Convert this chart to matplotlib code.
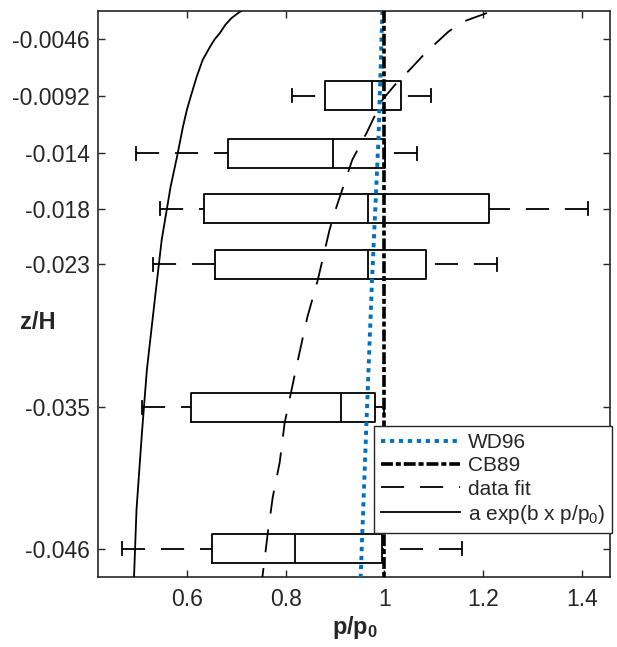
import matplotlib
matplotlib.use("Agg")
import matplotlib.pyplot as plt

plt.rcParams['font.family'] = ['Liberation Sans', 'DejaVu Sans']
plt.rcParams['mathtext.fontset'] = 'custom'
plt.rcParams['mathtext.rm'] = 'Liberation Sans'
plt.rcParams['mathtext.it'] = 'Liberation Sans:italic'
plt.rcParams['mathtext.bf'] = 'Liberation Sans:bold'

# ---------------- data ----------------
z_levels = [-0.0092, -0.0139, -0.0184, -0.0229, -0.0345, -0.046]
whislo = [0.812, 0.497, 0.545, 0.531, 0.509, 0.469]
q1 = [0.879, 0.683, 0.634, 0.657, 0.608, 0.650]
med = [0.974, 0.895, 0.966, 0.966, 0.913, 0.818]
q3 = [1.034, 1.002, 1.212, 1.085, 0.982, 0.996]
whishi = [1.095, 1.067, 1.412, 1.228, 1.000, 1.158]

ytick_pos = [-0.0046, -0.0092, -0.0139, -0.0184, -0.0229, -0.0345, -0.046]
ytick_labels = ['-0.0046', '-0.0092', '-0.014', '-0.018', '-0.023', '-0.035', '-0.046']
xtick_pos = [0.6, 0.8, 1.0, 1.2, 1.4]
xtick_labels = ['0.6', '0.8', '1', '1.2', '1.4']

wd96_z = [-0.0023, -0.0128, -0.0242, -0.0355, -0.0483]
wd96_p = [0.996, 0.988, 0.975, 0.964, 0.952]

cb89_z = [-0.0023, -0.0483]
cb89_p = [1.0, 1.0]

fit_z = [-0.00249, -0.00285, -0.00322, -0.00400, -0.00492, -0.00600, -0.00712,
         -0.00830, -0.00955, -0.01223, -0.01442, -0.01824, -0.0201, -0.0242,
         -0.0272, -0.0301, -0.0331, -0.0358, -0.0390, -0.0418, -0.0447, -0.0483]
fit_p = [1.208, 1.183, 1.158, 1.130, 1.105, 1.077, 1.051,
         1.022, 0.996, 0.964, 0.935, 0.903, 0.889, 0.865,
         0.844, 0.828, 0.812, 0.798, 0.788, 0.774, 0.764, 0.753]

exp_z = [-0.00225, -0.00255, -0.00292, -0.00345, -0.00411, -0.00465, -0.00523,
         -0.0063, -0.00766, -0.00898, -0.01036, -0.01174, -0.01418, -0.01661,
         -0.02092, -0.02579, -0.03147, -0.03658, -0.04283, -0.04827]
exp_p = [0.713, 0.702, 0.690, 0.678, 0.667, 0.656, 0.647,
         0.632, 0.620, 0.610, 0.600, 0.592, 0.580, 0.567,
         0.549, 0.535, 0.519, 0.509, 0.498, 0.493]

labels = ['WD96', 'CB89', 'data fit', 'a exp(b x p/p$_0$)']

# ---------------- figure ----------------
fig = plt.figure(figsize=(6.17, 6.47), dpi=100)
ax = fig.add_axes([98/617, 1 - 577/647, 512/617, 566/647])

axcol = '#262626'

stats = []
for i in range(len(z_levels)):
    stats.append(dict(med=med[i], q1=q1[i], q3=q3[i],
                      whislo=whislo[i], whishi=whishi[i], fliers=[]))

lw_box = 1.3
common = dict(positions=z_levels, widths=0.00236, showfliers=False,
              boxprops=dict(color='k', lw=lw_box),
              whiskerprops=dict(color='k', lw=lw_box, linestyle=(0, (12.8, 8.8))),
              capprops=dict(color='k', lw=lw_box),
              medianprops=dict(color='k', lw=lw_box),
              manage_ticks=False)
try:
    bp = ax.bxp(stats, orientation='horizontal', capwidths=0.00106, **common)
except TypeError:
    bp = ax.bxp(stats, vert=False, **common)

# dashes start at the cap end, as in the reference
for w in bp['whiskers']:
    w.set_xdata(list(w.get_xdata())[::-1])
    w.set_ydata(list(w.get_ydata())[::-1])

ax.plot(wd96_p, wd96_z, color='#0072BD', lw=2.8, linestyle=(0, (1.1, 1.2)),
        label=labels[0], zorder=3)
ax.plot(cb89_p, cb89_z, color='k', lw=2.6, linestyle=(0, (3.3, 0.8, 1.4, 0.8)),
        label=labels[1], zorder=4)
ax.plot(fit_p, fit_z, color='k', lw=1.3, linestyle=(0, (12.8, 8.8)),
        label=labels[2], zorder=3)
ax.plot(exp_p, exp_z, color='k', lw=1.3, linestyle='-', label=labels[3], zorder=3)

ax.set_xlim(0.42, 1.457)
ax.set_ylim(-0.0483, -0.00233)

ax.set_yticks(ytick_pos)
ax.set_yticklabels(ytick_labels)
ax.set_xticks(xtick_pos)
ax.set_xticklabels(xtick_labels)

ax.tick_params(axis='both', direction='in', length=5, width=1.0, color=axcol,
               labelcolor=axcol, labelsize=16.5, top=True, right=True)
ax.tick_params(axis='x', pad=8)
ax.tick_params(axis='y', pad=6)
for s in ax.spines.values():
    s.set_color(axcol)
    s.set_linewidth(1.2)

ax.set_ylabel('z/H', rotation=0, fontsize=17, fontweight='bold', color=axcol,
              va='center', ha='center')
ax.yaxis.set_label_coords(-0.117, 0.449)
ax.set_xlabel(r'$\mathbf{p/p_0}$', fontsize=17, color=axcol, va='center')
ax.xaxis.set_label_coords(0.502, -0.09)

leg = ax.legend(loc='lower right', bbox_to_anchor=(612/617, 1 - 533/647),
                bbox_transform=fig.transFigure, borderaxespad=0,
                fontsize=15, handlelength=3.8, handletextpad=0.36,
                labelspacing=0.2, borderpad=0.35, fancybox=False,
                framealpha=1, edgecolor=axcol)
leg.get_frame().set_linewidth(1.0)
for t in leg.get_texts():
    t.set_color(axcol)

fig.savefig('out.png', dpi=100)
